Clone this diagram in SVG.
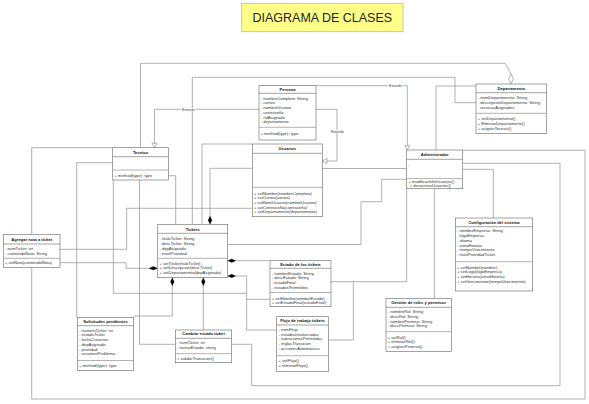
<svg xmlns="http://www.w3.org/2000/svg" width="589" height="404" viewBox="0 0 589 404">
<defs>
<style>
.box{fill:#fff;stroke:#666;stroke-width:.6}
.hl{stroke:#666;stroke-width:.6}
.sep{stroke:#a0a0a0;stroke-width:.8}
.t{font-family:"Liberation Sans",Arial,sans-serif;font-size:4.1px;fill:#333}
.h{font-family:"Liberation Sans",Arial,sans-serif;font-size:4.1px;font-weight:bold;text-anchor:middle;fill:#111}
.c{fill:none;stroke:#808080;stroke-width:.6}
.hol{fill:#fff;stroke:#808080;stroke-width:.6}
.fil{fill:#000;stroke:#000;stroke-width:.3}
.lbl{font-family:"Liberation Sans",Arial,sans-serif;font-size:3.6px;fill:#444;text-anchor:middle}
</style>
</defs>
<rect width="589" height="404" fill="#fff"/>

<g id="title">
<rect x="241.7" y="3.3" width="161.3" height="28.4" fill="#ffff88" stroke="#b8b8b8" stroke-width="0.8"/>
<text x="322.3" y="22" font-family="Liberation Sans, Arial, sans-serif" font-size="12.5" fill="#222" text-anchor="middle">DIAGRAMA DE CLASES</text>
</g>

<g id="connectors">
<path class="c" d="M140.5,147.7 V63.3 H505 L511,73.8"/>
<path class="hol" d="M511,73.8 L513.4,78.9 L511,84 L508.6,78.9 Z"/>
<path class="c" d="M192.3,224.3 V77.3 H455 V102.7 H476"/>
<path class="c" d="M259,109.3 H154.5 V143.3"/>
<path class="hol" d="M152,143.3 H157 L154.5,147.7 Z"/>
<path class="c" d="M316,109.3 H337 V161 H327"/>
<path class="hol" d="M327,158.5 V163.5 L322.3,161 Z"/>
<path class="c" d="M316,85.7 H407.3 V145.7"/>
<path class="hol" d="M404.8,145.7 H409.8 L407.3,150 Z"/>
<path class="c" d="M436,150 V86 H476"/>
<path class="c" d="M31.7,234.3 V147.7 H112.7"/>
<path class="c" d="M112.7,162.7 H76.7 V317.3"/>
<path class="c" d="M60,249.3 H126.7 V208.3 H252.3"/>
<path class="c" d="M149,268.3 H126 V262.7 H60"/>
<path class="fil" d="M149,268.3 L153.3,266.5 L157.7,268.3 L153.3,270.1 Z"/>
<path class="c" d="M168.3,175.7 H175.7 V224.3"/>
<path class="c" d="M139.5,180 V344.3 H175.3"/>
<path class="c" d="M252.3,144 H202 V224.3"/>
<path class="c" d="M210,216 V168.3 H252.3"/>
<path class="fil" d="M210,216 L211.8,220.2 L210,224.3 L208.2,220.2 Z"/>
<path class="c" d="M322.3,168.5 H406.7"/>
<path class="c" d="M406.7,179.3 H381.7 V201.7 H361 V244.5 H227.7"/>
<path class="c" d="M235.7,260.7 H270"/>
<path class="fil" d="M227.7,260.7 L231.7,258.9 L235.7,260.7 L231.7,262.5 Z"/>
<path class="c" d="M406.7,188.7 V281.7 H331"/>
<path class="c" d="M353.3,281.7 V340 H328.3"/>
<path class="c" d="M434.3,188.7 V298.3"/>
<path class="c" d="M462.7,169.3 H493.3 V218"/>
<path class="c" d="M462.7,163.3 H560 V385.7 H251.7 V344.3 H231.7"/>
<path class="c" d="M462.7,150.3 H585 V399 H31.7 V267.3"/>
<path class="c" d="M235.7,276 H246.7 V330 H276.7"/>
<path class="c" d="M246.7,293.3 H113.3 V180"/>
<path class="c" d="M246.7,299.3 H270"/>
<path class="fil" d="M227.7,276 L231.7,274.2 L235.7,276 L231.7,277.8 Z"/>
<path class="c" d="M172.3,285.7 V316 H133.7"/>
<path class="fil" d="M172.3,277.7 L174.1,281.7 L172.3,285.7 L170.5,281.7 Z"/>
<path class="c" d="M203.3,285.7 V330"/>
<path class="fil" d="M203.3,277.7 L205.1,281.7 L203.3,285.7 L201.5,281.7 Z"/>
<rect x="181" y="108" width="15" height="3.2" fill="#fff"/>
<text class="lbl" x="188.5" y="110.6">Extends</text>
<rect x="330" y="130.1" width="15" height="3.2" fill="#fff"/>
<text class="lbl" x="337.5" y="132.7">Extends</text>
<rect x="388" y="84.1" width="15" height="3.2" fill="#fff"/>
<text class="lbl" x="395.5" y="86.7">Extends</text>
</g>

<g id="persona">
<rect class="box" x="259" y="85.7" width="57" height="54.3"/>
<line class="hl" x1="259" y1="93.3" x2="316" y2="93.3"/>
<text class="h" x="287.5" y="90.9">Persona</text>
<text class="t" x="260.8" y="99.7">- nombreCompleto: String</text>
<text class="t" x="260.8" y="104.4">- correo</text>
<text class="t" x="260.8" y="109.1">- nombreUsuario</text>
<text class="t" x="260.8" y="113.8">- contraseña</text>
<text class="t" x="260.8" y="118.5">- rolAsignado</text>
<text class="t" x="260.8" y="123.2">- departamento</text>
<line class="sep" x1="259" y1="127.3" x2="316" y2="127.3"/>
<text class="t" x="260.8" y="134.9">+ method(type): type</text>
</g>

<g id="departamento">
<rect class="box" x="476" y="84" width="70.7" height="49.3"/>
<line class="hl" x1="476" y1="92.7" x2="546.7" y2="92.7"/>
<text class="h" x="511.3" y="89.8">Departamento</text>
<text class="t" x="477.8" y="99.4">- nomDepartamento: String</text>
<text class="t" x="477.8" y="104.1">- descripcionDepartamento: String</text>
<text class="t" x="477.8" y="108.8">- tecnicosAsignados</text>
<line class="sep" x1="476" y1="113.3" x2="546.7" y2="113.3"/>
<text class="t" x="477.8" y="120.4">+ setDepartamento()</text>
<text class="t" x="477.8" y="125.1">+ EliminarDepartamento()</text>
<text class="t" x="477.8" y="129.8">+ asignarTecnico()</text>
</g>

<g id="tecnico">
<rect class="box" x="112.7" y="147.7" width="55.6" height="32.3"/>
<line class="hl" x1="112.7" y1="156.7" x2="168.3" y2="156.7"/>
<text class="h" x="140.5" y="153.7">Tecnico</text>
<text class="t" x="114.5" y="163.1">-</text>
<line class="sep" x1="112.7" y1="170" x2="168.3" y2="170"/>
<text class="t" x="114.5" y="176.9">+ method(type): type</text>
</g>

<g id="usuarios">
<rect class="box" x="252.3" y="144" width="70" height="72.7"/>
<line class="hl" x1="252.3" y1="153.3" x2="322.3" y2="153.3"/>
<text class="h" x="287.3" y="150.1">Usuarios</text>
<text class="t" x="254.1" y="159.7">-</text>
<line class="sep" x1="252.3" y1="187.3" x2="322.3" y2="187.3"/>
<text class="t" x="254.1" y="194.6">+ setNombre(nombreCompleto)</text>
<text class="t" x="254.1" y="199.3">+ setCorreo(correo)</text>
<text class="t" x="254.1" y="204">+ setNomUsuario(nombreUsuario)</text>
<text class="t" x="254.1" y="208.7">+ setContraseña(contraseña)</text>
<text class="t" x="254.1" y="213.4">+ setDepartamento(departamento)</text>
</g>

<g id="administrador">
<rect class="box" x="406.7" y="150" width="56" height="38.7"/>
<line class="hl" x1="406.7" y1="159.3" x2="462.7" y2="159.3"/>
<text class="h" x="434.7" y="156.4">Administrador</text>
<text class="t" x="408.5" y="166.4">-</text>
<line class="sep" x1="406.7" y1="178.6" x2="462.7" y2="178.6"/>
<text class="t" x="408.5" y="182.8">+ modificarInfoUsuarios()</text>
<text class="t" x="409.8" y="187.4">+ desactivarUsuarios()</text>
</g>

<g id="tickets">
<rect class="box" x="157.7" y="224.3" width="70" height="53.4"/>
<line class="hl" x1="157.7" y1="233.3" x2="227.7" y2="233.3"/>
<text class="h" x="192.7" y="230.7">Tickets</text>
<text class="t" x="159.5" y="240.4">- tituloTicket: String</text>
<text class="t" x="159.5" y="245.1">- descTicket: String</text>
<text class="t" x="159.5" y="249.8">- depAsignado</text>
<text class="t" x="159.5" y="254.5">- nivelPrioridad</text>
<line class="sep" x1="157.7" y1="258.3" x2="227.7" y2="258.3"/>
<text class="t" x="159.5" y="264.7">+ setTitulo(tituloTicket)</text>
<text class="t" x="159.5" y="269.4">+ setDescripcion(descTicket)</text>
<text class="t" x="159.5" y="274.1">+ setDepartamento(depAsignado)</text>
</g>

<g id="agregar-nota">
<rect class="box" x="3.3" y="234.3" width="56.7" height="33"/>
<line class="hl" x1="3.3" y1="244" x2="60" y2="244"/>
<text class="h" x="31.7" y="240.7">Agregar nota a ticket</text>
<text class="t" x="5.1" y="250.4">- numTicket: int</text>
<text class="t" x="5.1" y="255">- contenidoNota: String</text>
<line class="sep" x1="3.3" y1="258.3" x2="60" y2="258.3"/>
<text class="t" x="5.1" y="264.1">+ setNota(contenidoNota)</text>
</g>

<g id="estado-tickets">
<rect class="box" x="270" y="260.7" width="61" height="46"/>
<line class="hl" x1="270" y1="268.3" x2="331" y2="268.3"/>
<text class="h" x="300.5" y="265.9">Estado de los tickets</text>
<text class="t" x="271.8" y="274.7">- nombreEstado: String</text>
<text class="t" x="271.8" y="279.4">- descEstado: String</text>
<text class="t" x="271.8" y="284.1">- estadoFinal</text>
<text class="t" x="271.8" y="288.8">- estadosPermitidos</text>
<line class="sep" x1="270" y1="292.5" x2="331" y2="292.5"/>
<text class="t" x="271.8" y="299.7">+ setNombre(nombreEstado)</text>
<text class="t" x="271.8" y="304.2">+ setEstadoFinal(estadoFinal)</text>
</g>

<g id="flujo-trabajo">
<rect class="box" x="276.7" y="316.7" width="51.6" height="55"/>
<line class="hl" x1="276.7" y1="325" x2="328.3" y2="325"/>
<text class="h" x="302.5" y="322.1">Flujo de trabajo tickets</text>
<text class="t" x="278.5" y="330.9">- nomFlujo</text>
<text class="t" x="278.5" y="335.6">- estadosInvolucrados</text>
<text class="t" x="278.5" y="340.3">- transicionesPermitidas</text>
<text class="t" x="278.5" y="345">- reglasTransicion</text>
<text class="t" x="278.5" y="349.7">- accionesAutomaticas</text>
<line class="sep" x1="276.7" y1="355.7" x2="328.3" y2="355.7"/>
<text class="t" x="278.5" y="362.4">+ setFlujo()</text>
<text class="t" x="278.5" y="367.3">+ eliminarFlujo()</text>
</g>

<g id="gestion-roles">
<rect class="box" x="386" y="298.3" width="65.3" height="53.4"/>
<line class="hl" x1="386" y1="307.3" x2="451.3" y2="307.3"/>
<text class="h" x="418.7" y="304.1">Gestión de roles y permisos</text>
<text class="t" x="387.8" y="313.1">- nombreRol: String</text>
<text class="t" x="387.8" y="317.8">- descRol: String</text>
<text class="t" x="387.8" y="322.5">- nombrePermiso: String</text>
<text class="t" x="387.8" y="327.2">- descPermiso: String</text>
<line class="sep" x1="386" y1="331.7" x2="451.3" y2="331.7"/>
<text class="t" x="387.8" y="338.7">+ setRol()</text>
<text class="t" x="387.8" y="343.4">+ eliminarRol()</text>
<text class="t" x="387.8" y="348.1">+ asignarPermiso()</text>
</g>

<g id="configuracion">
<rect class="box" x="455.3" y="218" width="77.4" height="73"/>
<line class="hl" x1="455.3" y1="226.7" x2="532.7" y2="226.7"/>
<text class="h" x="494" y="224.1">Configuración del sistema</text>
<text class="t" x="457.1" y="232.4">- nombreEmpresa: String</text>
<text class="t" x="457.1" y="237.1">- logoEmpresa</text>
<text class="t" x="457.1" y="241.8">- idioma</text>
<text class="t" x="457.1" y="246.5">- zonaHoraria</text>
<text class="t" x="457.1" y="251.2">- tiempoVencimiento</text>
<text class="t" x="457.1" y="255.9">- nivelPrioridadTicket</text>
<line class="sep" x1="455.3" y1="261.7" x2="532.7" y2="261.7"/>
<text class="t" x="457.1" y="268.7">+ setNombre(nombre)</text>
<text class="t" x="457.1" y="273.4">+ setLogo(logoEmpresa)</text>
<text class="t" x="457.1" y="278.1">+ setHorario(zonaHoraria)</text>
<text class="t" x="457.1" y="282.8">+ setVencimiento(tiempoVencimiento)</text>
</g>

<g id="cambiar-estado">
<rect class="box" x="175.3" y="330" width="56.4" height="32.7"/>
<line class="hl" x1="175.3" y1="338.3" x2="231.7" y2="338.3"/>
<text class="h" x="203.5" y="335.4">Cambiar estado ticket</text>
<text class="t" x="177.1" y="344.4">- numTicket: int</text>
<text class="t" x="177.1" y="349.1">- nuevoEstado: string</text>
<line class="sep" x1="175.3" y1="353.7" x2="231.7" y2="353.7"/>
<text class="t" x="177.1" y="359.7">+ validarTransicion()</text>
</g>

<g id="solicitudes">
<rect class="box" x="77.3" y="317.3" width="56.4" height="53.4"/>
<line class="hl" x1="77.3" y1="325.7" x2="133.7" y2="325.7"/>
<text class="h" x="105.5" y="323.1">Solicitudes pendientes</text>
<text class="t" x="79.1" y="331.7">- numeroTicket: int</text>
<text class="t" x="79.1" y="336.4">- estadoTicket</text>
<text class="t" x="79.1" y="341.1">- fechaCreacion</text>
<text class="t" x="79.1" y="345.8">- depAsignado</text>
<text class="t" x="79.1" y="350.5">- prioridad</text>
<text class="t" x="79.1" y="355.2">- resumenProblema</text>
<line class="sep" x1="77.3" y1="360.5" x2="133.7" y2="360.5"/>
<text class="t" x="79.1" y="367.4">+ method(type): type</text>
</g>
</svg>
